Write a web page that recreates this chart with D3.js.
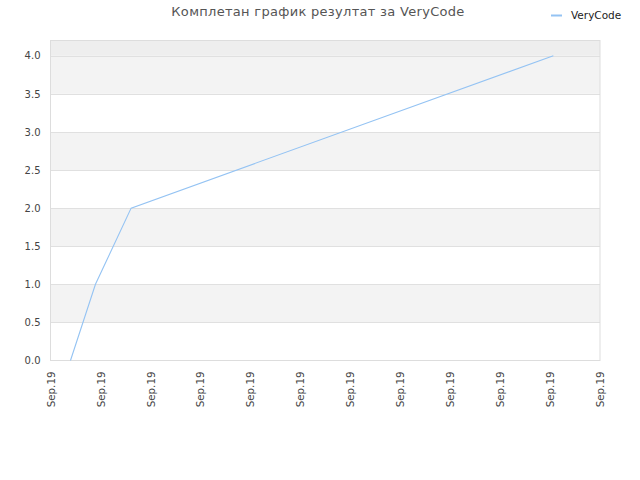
<!DOCTYPE html>
<html><head><meta charset="utf-8">
<script src="https://cdn.jsdelivr.net/npm/d3@7"></script>
<style>body{margin:0;background:#fff}svg{display:block}</style>
</head><body>
<svg id="c" width="640" height="480"></svg>
<script>
const title = "Комплетан график резултат за VeryCode";
const seriesName = "VeryCode";
const dates = ["2019-09-01T09:36", "2019-09-01T21:36", "2019-09-02T14:44", "2019-09-11T01:35"];
const values = [0, 1, 2, 4];
const xDomain = ["2019-09-01T00:00", "2019-09-12T00:00"];
const yTicks = [0, 0.5, 1, 1.5, 2, 2.5, 3, 3.5, 4];
const yMax = 4.2;

const parse = d3.isoParse;
const svg = d3.select("#c");
const m = {l: 50.5, r: 600, t: 40.5, b: 360.5};
const x = d3.scaleTime().domain(xDomain.map(parse)).range([m.l, m.r]);
const y = d3.scaleLinear().domain([0, yMax]).range([m.b, m.t]);
const font = "DejaVu Sans, sans-serif";

// bands
const bandEdges = yTicks.concat([yMax]);
const g = svg.append("g");
for (let i = 0; i < bandEdges.length - 1; i++) {
  const a = bandEdges[i], b = bandEdges[i + 1];
  let fill = i % 2 === 1 ? "#f3f3f3" : "#ffffff";
  if (i === bandEdges.length - 2) fill = "#eeeeee";
  g.append("rect").attr("x", m.l).attr("width", m.r - m.l)
    .attr("y", y(b)).attr("height", y(a) - y(b)).attr("fill", fill);
}
// grid lines
g.selectAll("line.grid").data(yTicks.slice(1)).join("line")
  .attr("x1", m.l).attr("x2", m.r)
  .attr("y1", d => Math.round(y(d)) + 0.5).attr("y2", d => Math.round(y(d)) + 0.5)
  .attr("stroke", "#e0e0e0").attr("stroke-width", 1);
// frame
svg.append("rect").attr("x", m.l).attr("y", m.t).attr("width", m.r - m.l).attr("height", m.b - m.t)
  .attr("fill", "none").attr("stroke", "#dddddd");

// y axis
const ya = svg.append("g").attr("transform", `translate(${m.l},0)`)
  .call(d3.axisLeft(y).tickValues(yTicks).tickFormat(d3.format(".1f")).tickSize(0).tickPadding(10));
ya.select(".domain").remove();
ya.selectAll("text").attr("font-family", font).attr("font-size", 10).attr("fill", "#444");

// x axis
const xTicks = d3.timeDay.range(parse(xDomain[0]), d3.timeDay.offset(parse(xDomain[1]), 1));
const xa = svg.append("g").attr("transform", `translate(0,${m.b})`)
  .call(d3.axisBottom(x).tickValues(xTicks).tickFormat(d3.timeFormat("%b.%y")).tickSize(0));
xa.select(".domain").remove();
xa.selectAll("text").attr("font-family", font).attr("font-size", 10.3).attr("fill", "#444")
  .attr("text-anchor", "end").attr("transform", "rotate(-90)")
  .attr("x", -11).attr("y", 0).attr("dy", "0.35em");

// line
const data = dates.map((d, i) => ({t: parse(d), v: values[i]}));
svg.append("path").datum(data)
  .attr("fill", "none").attr("stroke", "#94c3f3").attr("stroke-width", 1.1)
  .attr("d", d3.line().x(d => x(d.t)).y(d => y(d.v)));

// title
svg.append("text").attr("x", 318).attr("y", 16).attr("text-anchor", "middle")
  .attr("font-family", font).attr("font-size", 13).attr("letter-spacing", 0.3)
  .attr("fill", "#555").text(title);

// legend
svg.append("line").attr("x1", 551).attr("x2", 562).attr("y1", 15.5).attr("y2", 15.5)
  .attr("stroke", "#94c3f3").attr("stroke-width", 2);
svg.append("text").attr("x", 571).attr("y", 19).attr("font-family", font)
  .attr("font-size", 10.5).attr("fill", "#222").text(seriesName);
</script>
</body></html>
